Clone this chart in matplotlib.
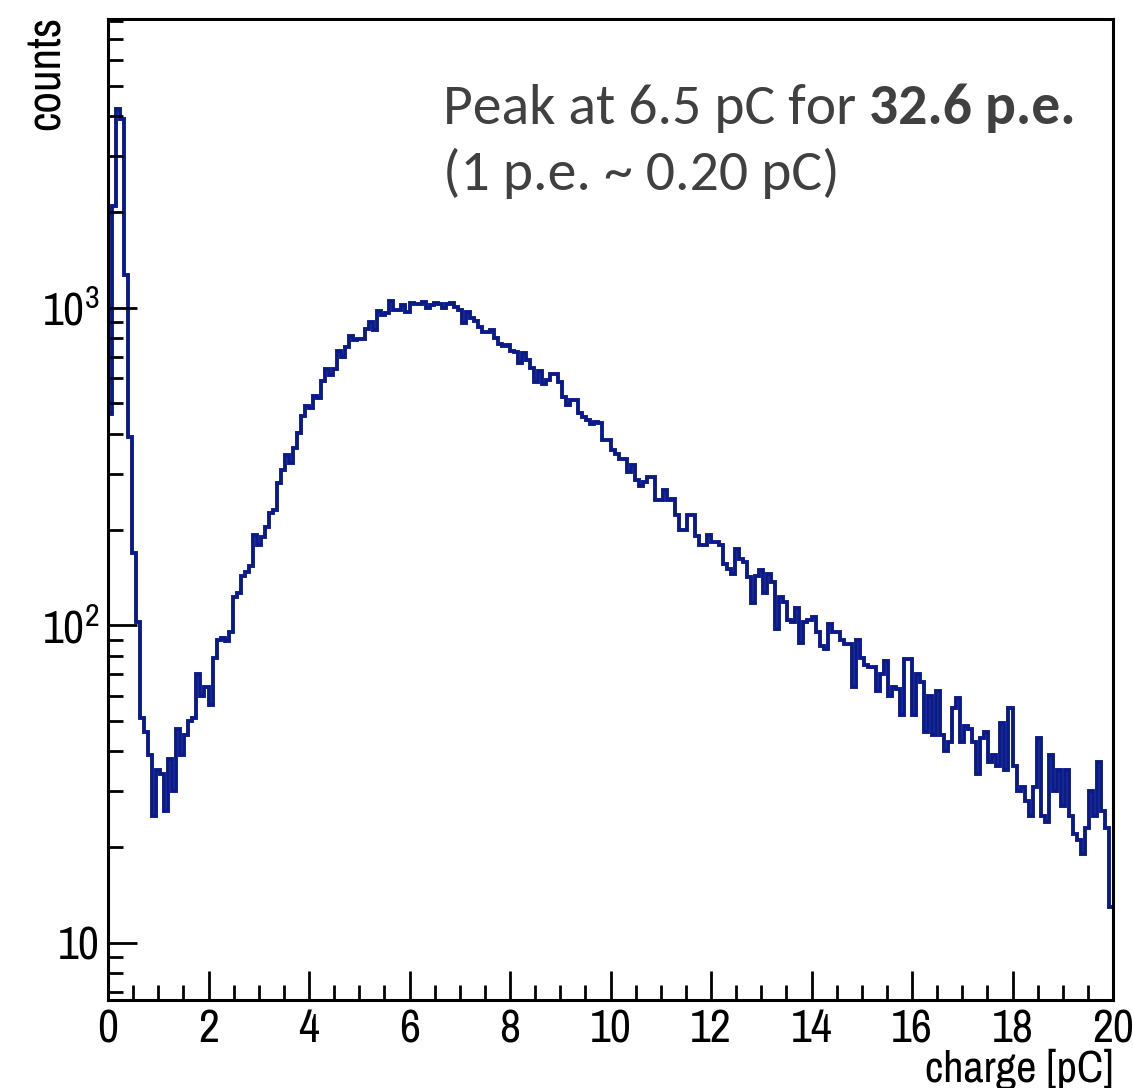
import matplotlib
matplotlib.use("Agg")
import matplotlib.pyplot as plt
import numpy as np
from matplotlib import font_manager
from matplotlib.ticker import FixedLocator, LogLocator, NullFormatter

# histogram contents, 250 bins of 0.08 pC between 0 and 20 pC
counts = [
    463, 2090, 4210, 3930, 1270, 390, 169, 102, 51, 46,
    39, 25, 35, 34, 26, 38, 30, 47, 39, 45,
    50, 51, 70, 60, 64, 56, 79, 90, 91, 89,
    95, 123, 126, 143, 147, 153, 192, 179, 190, 203,
    225, 230, 281, 307, 343, 324, 362, 403, 457, 488,
    484, 528, 520, 589, 641, 611, 641, 730, 700, 750,
    814, 788, 797, 797, 857, 900, 849, 976, 950, 963,
    1047, 981, 981, 1018, 967, 1032, 1028, 1028, 1040, 998,
    1020, 1032, 1025, 996, 1025, 1032, 1005, 979, 893, 967,
    928, 905, 867, 836, 836, 851, 800, 769, 754, 764,
    732, 723, 668, 718, 685, 646, 582, 631, 575, 590,
    618, 618, 582, 522, 494, 510, 510, 466, 452, 441,
    429, 435, 433, 382, 382, 355, 347, 334, 334, 303,
    320, 286, 275, 282, 293, 293, 248, 248, 267, 248,
    250, 222, 200, 200, 222, 222, 191, 179, 179, 192,
    183, 183, 179, 156, 150, 145, 174, 162, 158, 142,
    117, 143, 149, 126, 145, 137, 97, 123, 118, 104,
    102, 113, 88, 102, 104, 106, 95, 86, 84, 101,
    95, 95, 90, 87, 87, 64, 90, 79, 75, 74,
    74, 62, 70, 77, 60, 64, 63, 52, 78, 78,
    52, 70, 66, 46, 60, 45, 62, 45, 40, 43,
    55, 59, 43, 48, 47, 43, 34, 44, 46, 37,
    39, 36, 49, 35, 55, 36, 30, 31, 28, 25,
    31, 44, 25, 24, 39, 30, 35, 27, 35, 25,
    22, 21, 19, 23, 30, 25, 37, 26, 23, 13,
]
x_lo, x_hi = 0.0, 20.0
x_major = [0, 2, 4, 6, 8, 10, 12, 14, 16, 18, 20]
x_minor = np.arange(0, 20.01, 0.5)
y_major = [10, 100, 1000]
y_labels = ["10", "$10^{2}$", "$10^{3}$"]


def pick(cands, default):
    names = {f.name for f in font_manager.fontManager.ttflist}
    for c in cands:
        if c in names:
            return c
    return default


axis_font = pick(["Archivo Narrow", "Liberation Sans Narrow", "PT Sans Narrow"], "Liberation Sans")
note_font = pick(["Carlito", "Lato"], "DejaVu Sans")
plt.rcParams["font.family"] = [axis_font, "DejaVu Sans"]
plt.rcParams["mathtext.fontset"] = "custom"
plt.rcParams["mathtext.rm"] = axis_font

W, H = 1133, 1088
fig = plt.figure(figsize=(W / 100, H / 100), dpi=100)
ax = fig.add_axes([108 / W, 88 / H, 1005 / W, 981 / H])

edges = np.linspace(x_lo, x_hi, len(counts) + 1)
ax.stairs(counts, edges, baseline=None, color="#0b1a8a", lw=2.8)

ax.set_yscale("log")
ax.set_xlim(x_lo, x_hi)
ax.set_ylim(6.6, 8100)

ax.xaxis.set_major_locator(FixedLocator(x_major))
ax.xaxis.set_minor_locator(FixedLocator(x_minor))
ax.set_xticklabels([str(v) for v in x_major])
ax.yaxis.set_major_locator(FixedLocator(y_major))
ax.set_yticklabels(y_labels)
ax.yaxis.set_minor_locator(LogLocator(base=10, subs=np.arange(2, 10)))
ax.yaxis.set_minor_formatter(NullFormatter())

ax.tick_params(which="both", direction="in", width=2.0, color="black",
               top=False, right=False, labelsize=33)
ax.tick_params(which="major", length=21)
ax.tick_params(which="minor", length=10.5)
ax.tick_params(axis="x", pad=6)
ax.tick_params(axis="y", pad=6)
for s in ax.spines.values():
    s.set_linewidth(2.2)

fig.text(46 / W, 1 - 16 / H, "counts", rotation=90, ha="center", va="top", fontsize=34)
fig.text(1113 / W, 1 - 1082 / H, "charge [pC]", ha="right", va="baseline", fontsize=32)

# annotation: regular part, then the bold part right after it
fams = [note_font, "DejaVu Sans"]
note_col = "#404040"
fs = 41.5
x0, y1, y2 = 443 / W, 1 - 124 / H, 1 - 190 / H
t1 = fig.text(x0, y1, "Peak at 6.5 pC for", family=fams, fontsize=fs, color=note_col, va="baseline")
r = fig.canvas.get_renderer()
w1 = t1.get_window_extent(r).width
sp_a = fig.text(0, 0, "a a", family=fams, fontsize=fs)
sp_b = fig.text(0, 0, "aa", family=fams, fontsize=fs)
space = sp_a.get_window_extent(r).width - sp_b.get_window_extent(r).width
sp_a.remove()
sp_b.remove()
fig.text(x0 + (w1 + space) / W, y1, "32.6 p.e.", family=fams, fontsize=fs,
         weight="bold", color=note_col, va="baseline")
fig.text(x0, y2, "(1 p.e. ~ 0.20 pC)", family=fams, fontsize=fs, color=note_col, va="baseline")

fig.savefig("out.png", dpi=100)
